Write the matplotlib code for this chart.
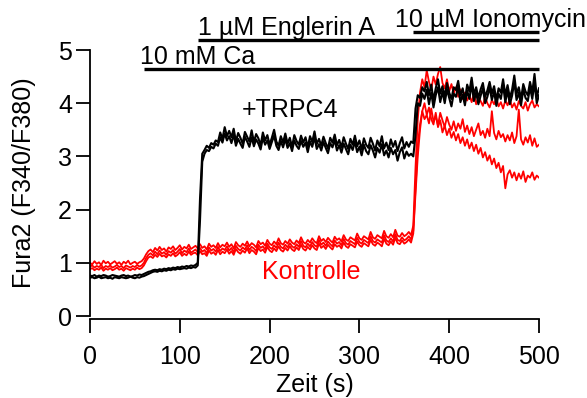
import numpy as np
import matplotlib
matplotlib.use("Agg")
import matplotlib.pyplot as plt

plt.rcParams['font.family'] = ['Liberation Sans', 'DejaVu Sans']

# sampling times (s), one value every 2.5 s
times = np.arange(0, 501, 2.5)

# +TRPC4 cells (black): baseline, Ca step, Englerin jump, plateau, Ionomycin jump, top
trpc4_a = (
    [0.76, 0.75, 0.77, 0.74, 0.76, 0.75, 0.77, 0.76, 0.74, 0.75, 0.77, 0.76,
     0.75, 0.74, 0.76, 0.77, 0.75, 0.76, 0.74, 0.75, 0.77, 0.76, 0.78, 0.77]
    + [0.79, 0.81, 0.83, 0.84, 0.86, 0.87, 0.86, 0.88, 0.87, 0.89, 0.88, 0.90,
       0.89, 0.91, 0.90, 0.92, 0.91, 0.93, 0.92, 0.94, 0.93, 0.95, 0.94, 0.96]
    + [1.00, 2.20, 3.05]
    + [3.12, 3.20, 3.16, 3.25, 3.22, 3.30, 3.27, 3.45, 3.33, 3.55, 3.38, 3.48,
       3.36, 3.52, 3.28, 3.44, 3.35, 3.24, 3.46, 3.37, 3.28, 3.49,
       3.27, 3.42, 3.34, 3.21, 3.45, 3.30, 3.40, 3.22, 3.35, 3.50,
       3.28, 3.20, 3.38, 3.26, 3.43, 3.24, 3.35, 3.18, 3.40, 3.29,
       3.22, 3.39, 3.26, 3.36, 3.17, 3.38, 3.27, 3.47, 3.23, 3.33,
       3.20, 3.37, 3.25, 3.15, 3.35, 3.26, 3.41, 3.21, 3.31, 3.17,
       3.36, 3.24, 3.14, 3.33, 3.22, 3.39, 3.19, 3.30, 3.13, 3.34,
       3.22, 3.16, 3.35, 3.24, 3.11, 3.30, 3.19, 3.38, 3.15, 3.26,
       3.12, 3.32, 3.18, 3.29, 3.10, 3.25, 3.36, 3.15, 3.27, 3.18, 3.28]
    + [3.25, 3.90, 4.15]
    + [4.10, 4.30, 4.22, 4.40, 4.15, 4.35, 4.05, 4.28, 4.45, 4.18,
       4.32, 4.12, 4.38, 4.20, 4.08, 4.30, 4.25, 4.42, 4.14, 4.28,
       4.05, 4.35, 4.22, 4.48, 4.16, 4.30, 4.10, 4.26, 4.38, 4.12,
       4.24, 4.40, 4.18, 4.32, 4.06, 4.28, 4.20, 4.45, 4.15, 4.34,
       4.10, 4.25, 4.52, 4.18, 4.30, 4.08, 4.36, 4.22, 4.15, 4.40,
       4.20, 4.55, 4.12, 4.28]
)
trpc4_b = (
    [0.72, 0.73, 0.71, 0.72, 0.74, 0.71, 0.72, 0.73, 0.71, 0.72, 0.70, 0.73,
     0.72, 0.71, 0.73, 0.72, 0.71, 0.72, 0.74, 0.72, 0.71, 0.73, 0.72, 0.74]
    + [0.75, 0.77, 0.79, 0.81, 0.83, 0.84, 0.83, 0.85, 0.84, 0.86, 0.85, 0.87,
       0.86, 0.88, 0.87, 0.89, 0.88, 0.89, 0.90, 0.89, 0.91, 0.90, 0.92, 0.91]
    + [0.95, 1.80, 2.90]
    + [3.05, 3.12, 3.10, 3.18, 3.15, 3.24, 3.20, 3.36, 3.26, 3.43, 3.30, 3.38,
       3.25, 3.41, 3.20, 3.33, 3.24, 3.16, 3.37, 3.28, 3.18, 3.36,
       3.19, 3.32, 3.24, 3.13, 3.35, 3.22, 3.30, 3.14, 3.27, 3.39,
       3.20, 3.12, 3.29, 3.17, 3.33, 3.16, 3.25, 3.10, 3.30, 3.20,
       3.14, 3.29, 3.18, 3.26, 3.08, 3.28, 3.18, 3.36, 3.14, 3.23,
       3.11, 3.27, 3.16, 3.06, 3.25, 3.17, 3.31, 3.11, 3.21, 3.07,
       3.24, 3.14, 3.04, 3.22, 3.12, 3.28, 3.08, 3.18, 3.02, 3.22,
       3.10, 3.04, 3.21, 3.11, 2.98, 3.16, 3.07, 3.23, 3.02, 3.11,
       2.98, 3.16, 3.04, 3.12, 2.92, 3.08, 3.17, 2.96, 3.09, 3.01, 3.05]
    + [3.00, 3.40, 4.00]
    + [3.95, 4.18, 4.08, 4.25, 3.98, 4.20, 3.92, 4.15, 4.30, 4.02,
       4.22, 4.00, 4.26, 4.10, 3.94, 4.18, 4.12, 4.32, 4.02, 4.16,
       3.96, 4.24, 4.08, 4.36, 4.04, 4.20, 3.98, 4.14, 4.28, 4.00,
       4.12, 4.30, 4.06, 4.22, 3.95, 4.18, 4.08, 4.34, 4.02, 4.24,
       3.98, 4.14, 4.40, 4.06, 4.20, 3.96, 4.26, 4.10, 4.04, 4.30,
       4.08, 4.38, 4.00, 4.15]
)

# Kontrolle cells (red): baseline, Ca step, slow rise, Ionomycin jump, decay
ctrl_a = (
    [1.00, 0.97, 1.03, 0.98, 1.01, 0.96, 1.04, 0.99, 1.02, 0.97, 1.00, 1.03,
     0.98, 1.01, 0.96, 1.02, 0.99, 1.04, 0.97, 1.00, 1.02, 0.98, 1.01, 1.03]
    + [1.08, 1.16, 1.22]
    + [1.25, 1.20, 1.28, 1.23, 1.30, 1.24, 1.27, 1.21, 1.29, 1.26,
       1.31, 1.24, 1.28, 1.33, 1.25, 1.30, 1.27, 1.34, 1.26, 1.29,
       1.32, 1.27, 1.35, 1.28, 1.31, 1.25, 1.36, 1.30, 1.33, 1.28,
       1.37, 1.29, 1.34, 1.31, 1.38, 1.30, 1.35, 1.27, 1.39, 1.33,
       1.30, 1.36, 1.32, 1.40, 1.31, 1.37, 1.34, 1.29, 1.41, 1.35,
       1.38, 1.32, 1.43, 1.36, 1.33, 1.40, 1.35, 1.46, 1.37, 1.34,
       1.41, 1.36, 1.44, 1.38, 1.35, 1.42, 1.37, 1.48, 1.39, 1.36,
       1.43, 1.38, 1.46, 1.40, 1.37, 1.50, 1.41, 1.45, 1.39, 1.47,
       1.42, 1.38, 1.49, 1.43, 1.46, 1.40, 1.52, 1.44, 1.41, 1.48,
       1.45, 1.42, 1.55, 1.46, 1.43, 1.50, 1.47, 1.44, 1.58, 1.48,
       1.45, 1.52, 1.49, 1.46, 1.60, 1.50, 1.47, 1.54, 1.48, 1.62,
       1.51, 1.49, 1.56, 1.50, 1.53, 1.58, 1.52]
    + [1.70, 2.80, 3.70]
    + [4.20, 4.45, 4.30, 4.62, 4.40, 4.25, 4.50, 4.35, 4.55, 4.68,
       4.38, 4.28, 4.45, 4.22, 4.36, 4.18, 4.30, 4.12, 4.26, 4.08,
       4.20, 4.05, 4.15, 4.02, 4.18, 3.98, 4.10, 4.04, 3.95, 4.12,
       4.00, 3.92, 4.06, 3.98, 4.10, 3.94, 4.02, 3.90, 4.05, 3.96,
       4.08, 3.92, 4.00, 3.88, 4.04, 3.95, 3.90, 4.02, 3.86, 3.98,
       4.05, 3.92, 3.98, 3.94]
)
ctrl_b = (
    [0.93, 0.95, 0.91, 0.94, 0.92, 0.96, 0.90, 0.94, 0.92, 0.95, 0.91, 0.93,
     0.96, 0.92, 0.94, 0.90, 0.95, 0.93, 0.91, 0.94, 0.92, 0.96, 0.93, 0.95]
    + [1.00, 1.09, 1.15]
    + [1.18, 1.14, 1.21, 1.16, 1.23, 1.17, 1.20, 1.15, 1.22, 1.19,
       1.24, 1.17, 1.21, 1.26, 1.18, 1.23, 1.20, 1.27, 1.19, 1.22,
       1.25, 1.20, 1.28, 1.21, 1.24, 1.18, 1.29, 1.23, 1.26, 1.21,
       1.30, 1.22, 1.27, 1.24, 1.31, 1.23, 1.28, 1.20, 1.32, 1.26,
       1.23, 1.29, 1.25, 1.33, 1.24, 1.30, 1.27, 1.22, 1.34, 1.28,
       1.31, 1.25, 1.36, 1.29, 1.26, 1.33, 1.28, 1.38, 1.30, 1.27,
       1.34, 1.29, 1.37, 1.31, 1.28, 1.35, 1.30, 1.41, 1.32, 1.29,
       1.36, 1.31, 1.39, 1.33, 1.30, 1.43, 1.34, 1.38, 1.32, 1.40,
       1.35, 1.31, 1.42, 1.36, 1.39, 1.33, 1.45, 1.37, 1.34, 1.41,
       1.38, 1.35, 1.47, 1.39, 1.36, 1.43, 1.40, 1.37, 1.50, 1.41,
       1.38, 1.44, 1.41, 1.38, 1.52, 1.42, 1.39, 1.46, 1.40, 1.54,
       1.43, 1.41, 1.48, 1.42, 1.45, 1.50, 1.44]
    + [1.60, 2.40, 3.20]
    + [3.60, 3.85, 3.70, 3.78, 3.62, 3.90, 3.66, 3.75, 3.58, 3.82,
       3.68, 3.55, 3.74, 3.60, 3.50, 3.66, 3.48, 3.62, 3.52, 3.70,
       3.46, 3.58, 3.42, 3.55, 3.38, 3.50, 3.62, 3.40, 3.48, 3.35,
       3.52, 3.38, 3.85, 3.44, 3.32, 3.48, 3.36, 3.42, 3.28, 3.40,
       3.30, 3.45, 3.25, 3.38, 3.88, 3.32, 3.22, 3.36, 3.26, 3.40,
       3.20, 3.34, 3.18, 3.22]
)
ctrl_c = (
    [0.88, 0.90, 0.86, 0.89, 0.87, 0.91, 0.85, 0.89, 0.87, 0.90, 0.86, 0.88,
     0.91, 0.87, 0.89, 0.85, 0.90, 0.88, 0.86, 0.89, 0.87, 0.91, 0.88, 0.90]
    + [0.95, 1.03, 1.10]
    + [1.12, 1.09, 1.15, 1.11, 1.17, 1.12, 1.14, 1.10, 1.16, 1.13,
       1.18, 1.12, 1.15, 1.20, 1.13, 1.17, 1.14, 1.21, 1.15, 1.18,
       1.19, 1.14, 1.22, 1.16, 1.18, 1.13, 1.23, 1.17, 1.20, 1.15,
       1.24, 1.16, 1.21, 1.18, 1.25, 1.17, 1.22, 1.15, 1.26, 1.20,
       1.17, 1.23, 1.19, 1.27, 1.18, 1.24, 1.21, 1.16, 1.28, 1.22,
       1.25, 1.19, 1.30, 1.23, 1.20, 1.27, 1.22, 1.31, 1.24, 1.21,
       1.28, 1.23, 1.31, 1.25, 1.22, 1.29, 1.24, 1.34, 1.26, 1.23,
       1.30, 1.25, 1.33, 1.27, 1.24, 1.36, 1.28, 1.32, 1.26, 1.34,
       1.29, 1.25, 1.35, 1.30, 1.33, 1.27, 1.38, 1.31, 1.28, 1.35,
       1.32, 1.29, 1.40, 1.33, 1.30, 1.37, 1.34, 1.31, 1.43, 1.35,
       1.32, 1.38, 1.35, 1.31, 1.45, 1.36, 1.33, 1.40, 1.34, 1.47,
       1.37, 1.35, 1.42, 1.36, 1.39, 1.44, 1.38]
    + [1.55, 2.30, 3.00]
    + [3.50, 3.85, 4.00, 3.78, 3.92, 3.70, 3.60, 3.82, 3.55, 3.68,
       3.45, 3.58, 3.40, 3.52, 3.35, 3.46, 3.30, 3.42, 3.25, 3.36,
       3.20, 3.32, 3.15, 3.26, 3.10, 3.22, 3.05, 3.16, 2.98, 3.08,
       2.92, 3.02, 2.85, 2.96, 2.78, 2.88, 2.70, 2.82, 2.40, 2.66,
       2.74, 2.60, 2.70, 2.55, 2.68, 2.58, 2.72, 2.52, 2.64, 2.60,
       2.70, 2.56, 2.64, 2.60]
)

for tr in (trpc4_a, trpc4_b, ctrl_a, ctrl_b, ctrl_c):
    assert len(tr) == len(times), len(tr)

# application bars: label, start, end, bar height
treatments = ["10 mM Ca", "1 µM Englerin A", "10 µM Ionomycin"]
starts = [60, 120, 360]
ends = [500, 500, 500]
levels = [4.64, 5.19, 5.34]
label_x = [56, 120, 340]
label_y = [4.74, 5.28, 5.43]

FS = 18

fig = plt.figure(figsize=(5.87, 3.98), dpi=100)
ax = fig.add_axes([90 / 587, 82 / 398, 449 / 587, 266 / 398])

for tr in (ctrl_a, ctrl_b, ctrl_c):
    ax.plot(times, tr, color='#ff0000', lw=1.3)
for tr in (trpc4_a, trpc4_b):
    ax.plot(times, tr, color='black', lw=1.5)

for name, s, e, lv, lx, ly in zip(treatments, starts, ends, levels, label_x, label_y):
    ax.plot([s, e], [lv, lv], color='black', lw=2.4, clip_on=False,
            solid_capstyle='butt')
    ax.text(lx, ly, name, fontsize=FS, ha='left', va='baseline', clip_on=False)

ax.text(169, 3.74, "+TRPC4", fontsize=FS, color='black', va='baseline')
ax.text(191, 0.70, "Kontrolle", fontsize=FS, color='#ff0000', va='baseline')

ax.set_xlim(0, 500)
ax.set_ylim(0, 5)
ax.set_xticks(range(0, 501, 100))
ax.set_yticks(range(0, 6))

for side in ('top', 'right'):
    ax.spines[side].set_visible(False)
ax.spines['bottom'].set_position(('outward', 2))
for side in ('left', 'bottom'):
    ax.spines[side].set_linewidth(1.3)

ax.tick_params(axis='both', direction='out', length=10, width=1.3,
               labelsize=FS)
ax.tick_params(axis='x', pad=9)
ax.tick_params(axis='y', pad=3)

ax.set_xlabel("Zeit (s)", fontsize=FS, labelpad=2.5)
ax.set_ylabel("Fura2 (F340/F380)", fontsize=FS, labelpad=16)

fig.savefig("out.png", dpi=100)
